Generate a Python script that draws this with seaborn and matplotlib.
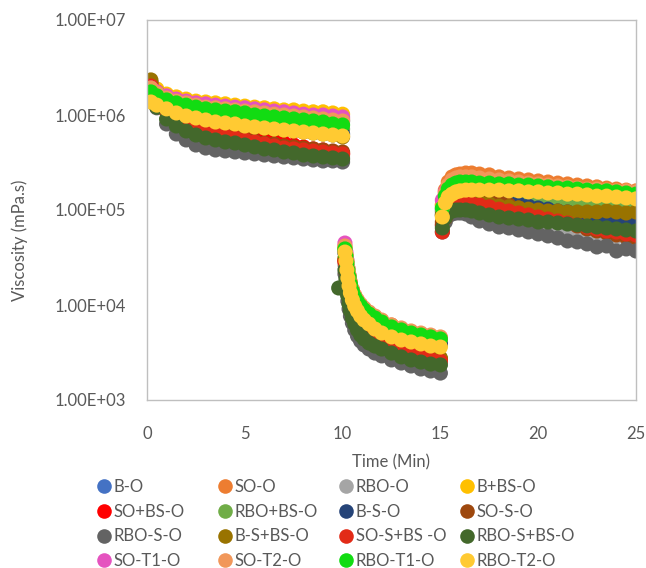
import matplotlib
matplotlib.use("Agg")
import matplotlib.pyplot as plt
import numpy as np
import pandas as pd
import seaborn as sns
from matplotlib.lines import Line2D
from matplotlib.ticker import FixedLocator, FuncFormatter, NullLocator

# ---------------- data ----------------
time_p1 = [0.2, 0.5, 1.0, 1.5, 2.0, 2.5, 3.0, 3.5, 4.0, 4.5, 5.0, 5.5, 6.0, 6.5, 7.0, 7.5, 8.0, 8.5, 9.0, 9.5, 10.0]
time_p2 = [10.12, 10.17, 10.22, 10.27, 10.33, 10.4, 10.5, 10.62, 10.76, 10.92, 11.1, 11.35, 11.65, 12.0, 12.5, 13.0, 13.5, 14.0, 14.5, 15.0]
time_p3 = [15.1, 15.25, 15.4, 15.6, 15.8, 16.0, 16.3, 16.6, 17.0, 17.5, 18.0, 18.5, 19.0, 19.5, 20.0, 20.5, 21.0, 21.5, 22.0, 22.5, 23.0, 23.5, 24.0, 24.5, 25.0]
time_min = time_p1 + time_p2 + time_p3

series_names = ["B-O", "SO-O", "RBO-O", "B+BS-O", "SO+BS-O", "RBO+BS-O", "B-S-O", "SO-S-O",
                "RBO-S-O", "B-S+BS-O", "SO-S+BS -O", "RBO-S+BS-O", "SO-T1-O", "SO-T2-O", "RBO-T1-O", "RBO-T2-O"]
series_colors = ["#4472C4", "#ED7D31", "#A5A5A5", "#FFC000", "#FF0000", "#70AD47", "#264478", "#9E480E",
                 "#636363", "#997300", "#E22B17", "#43682B", "#E553BF", "#F1975A", "#12DC12", "#FFCA32"]

b_o = [2.12e6, 1.83e6, 1.59e6, 1.44e6, 1.34e6, 1.27e6, 1.21e6, 1.19e6, 1.16e6, 1.13e6, 1.10e6, 1.08e6, 1.05e6, 1.02e6, 1.00e6, 9.76e5, 9.53e5, 9.30e5, 9.08e5, 8.86e5, 8.65e5,
       3.79e4, 3.12e4, 2.57e4, 2.17e4, 1.83e4, 1.55e4, 1.31e4, 1.13e4, 1.00e4, 9.08e3, 8.24e3, 7.48e3, 6.79e3, 6.16e3, 5.46e3, 5.07e3, 4.72e3, 4.49e3, 4.28e3, 4.08e3,
       1.00e5, 1.34e5, 1.55e5, 1.66e5, 1.70e5, 1.70e5, 1.70e5, 1.66e5, 1.62e5, 1.59e5, 1.55e5, 1.51e5, 1.47e5, 1.44e5, 1.40e5, 1.37e5, 1.34e5, 1.31e5, 1.27e5, 1.24e5, 1.21e5, 1.19e5, 1.16e5, 1.13e5, 1.10e5]
so_o = [2.02e6, 1.79e6, 1.59e6, 1.47e6, 1.40e6, 1.34e6, 1.27e6, 1.24e6, 1.21e6, 1.19e6, 1.16e6, 1.13e6, 1.10e6, 1.08e6, 1.05e6, 1.02e6, 1.00e6, 9.76e5, 9.53e5, 9.30e5, 9.08e5,
        4.08e4, 3.36e4, 2.84e4, 2.39e4, 2.02e4, 1.70e4, 1.44e4, 1.24e4, 1.10e4, 1.00e4, 9.08e3, 8.24e3, 7.48e3, 6.79e3, 6.16e3, 5.59e3, 5.20e3, 4.95e3, 4.72e3, 4.49e3,
        1.13e5, 1.62e5, 1.97e5, 2.23e5, 2.34e5, 2.39e5, 2.45e5, 2.45e5, 2.39e5, 2.34e5, 2.23e5, 2.17e5, 2.12e5, 2.07e5, 2.02e5, 1.97e5, 1.92e5, 1.88e5, 1.83e5, 1.79e5, 1.75e5, 1.70e5, 1.66e5, 1.62e5, 1.59e5]
rbo_o = [1.92e6, 1.44e6, 1.08e6, 8.86e5, 7.66e5, 6.95e5, 6.47e5, 6.01e5, 5.73e5, 5.46e5, 5.20e5, 4.95e5, 4.72e5, 4.49e5, 4.28e5, 4.18e5, 3.98e5, 3.89e5, 3.79e5, 3.70e5, 3.61e5,
         2.64e4, 2.07e4, 1.66e4, 1.37e4, 1.13e4, 9.53e3, 8.04e3, 6.95e3, 6.16e3, 5.59e3, 5.07e3, 4.61e3, 4.18e3, 3.79e3, 3.36e3, 3.05e3, 2.84e3, 2.64e3, 2.51e3, 2.39e3,
         6.95e4, 8.86e4, 1.00e5, 1.08e5, 1.10e5, 1.10e5, 1.08e5, 1.05e5, 1.00e5, 9.53e4, 9.08e4, 8.65e4, 8.24e4, 7.85e4, 7.48e4, 7.12e4, 6.79e4, 6.47e4, 6.16e4, 5.87e4, 5.59e4, 5.33e4, 5.20e4, 5.07e4, 4.95e4]
b_bs_o = [2.07e6, 1.88e6, 1.66e6, 1.55e6, 1.47e6, 1.40e6, 1.37e6, 1.34e6, 1.31e6, 1.27e6, 1.24e6, 1.21e6, 1.19e6, 1.16e6, 1.13e6, 1.13e6, 1.10e6, 1.08e6, 1.08e6, 1.05e6, 1.02e6,
          3.98e4, 3.28e4, 2.70e4, 2.28e4, 1.92e4, 1.62e4, 1.37e4, 1.19e4, 1.05e4, 9.53e3, 8.65e3, 7.85e3, 7.12e3, 6.47e3, 5.87e3, 5.33e3, 4.95e3, 4.72e3, 4.49e3, 4.28e3,
          1.13e5, 1.44e5, 1.62e5, 1.75e5, 1.79e5, 1.83e5, 1.83e5, 1.79e5, 1.75e5, 1.70e5, 1.66e5, 1.62e5, 1.59e5, 1.55e5, 1.51e5, 1.47e5, 1.44e5, 1.40e5, 1.37e5, 1.34e5, 1.34e5, 1.31e5, 1.27e5, 1.27e5, 1.24e5]
so_bs_o = [1.92e6, 1.51e6, 1.13e6, 9.53e5, 8.65e5, 8.04e5, 7.48e5, 7.12e5, 6.79e5, 6.47e5, 6.16e5, 5.87e5, 5.59e5, 5.33e5, 5.07e5, 4.83e5, 4.61e5, 4.39e5, 4.28e5, 4.08e5, 3.89e5,
           2.98e4, 2.34e4, 1.88e4, 1.55e4, 1.27e4, 1.08e4, 9.08e3, 7.85e3, 6.95e3, 6.31e3, 5.73e3, 5.20e3, 4.72e3, 4.28e3, 3.79e3, 3.44e3, 3.20e3, 2.98e3, 2.84e3, 2.64e3,
           6.95e4, 9.53e4, 1.10e5, 1.19e5, 1.21e5, 1.21e5, 1.21e5, 1.19e5, 1.16e5, 1.13e5, 1.10e5, 1.10e5, 1.08e5, 1.08e5, 1.08e5, 1.05e5, 1.00e5, 9.30e4, 8.65e4, 8.04e4, 7.48e4, 6.95e4, 6.47e4, 6.01e4, 5.73e4]
rbo_bs_o = [1.83e6, 1.55e6, 1.31e6, 1.19e6, 1.10e6, 1.05e6, 1.00e6, 9.76e5, 9.53e5, 9.30e5, 9.08e5, 8.86e5, 8.65e5, 8.44e5, 8.24e5, 8.04e5, 7.85e5, 7.66e5, 7.48e5, 7.30e5, 7.12e5,
            3.61e4, 2.98e4, 2.45e4, 2.02e4, 1.66e4, 1.40e4, 1.19e4, 1.02e4, 9.08e3, 8.24e3, 7.48e3, 6.79e3, 6.16e3, 5.59e3, 5.07e3, 4.72e3, 4.39e3, 4.18e3, 3.98e3, 3.79e3,
            9.53e4, 1.19e5, 1.34e5, 1.44e5, 1.47e5, 1.51e5, 1.51e5, 1.47e5, 1.44e5, 1.40e5, 1.37e5, 1.34e5, 1.31e5, 1.27e5, 1.27e5, 1.24e5, 1.21e5, 1.21e5, 1.19e5, 1.19e5, 1.16e5, 1.16e5, 1.13e5, 1.13e5, 1.10e5]
b_s_o = [2.23e6, 1.70e6, 1.31e6, 1.13e6, 1.02e6, 9.53e5, 9.08e5, 8.65e5, 8.44e5, 8.24e5, 8.04e5, 7.85e5, 7.66e5, 7.48e5, 7.30e5, 7.12e5, 6.95e5, 6.79e5, 6.62e5, 6.47e5, 6.31e5,
         3.53e4, 2.84e4, 2.28e4, 1.88e4, 1.55e4, 1.34e4, 1.16e4, 1.02e4, 9.30e3, 8.44e3, 7.66e3, 6.95e3, 6.31e3, 5.73e3, 5.20e3, 4.83e3, 4.49e3, 4.28e3, 4.08e3, 3.89e3,
         8.86e4, 1.13e5, 1.31e5, 1.40e5, 1.44e5, 1.47e5, 1.47e5, 1.44e5, 1.37e5, 1.31e5, 1.24e5, 1.19e5, 1.16e5, 1.10e5, 1.05e5, 1.02e5, 9.76e4, 9.53e4, 9.08e4, 8.86e4, 8.44e4, 8.24e4, 8.04e4, 7.66e4, 7.48e4]
so_s_o = [2.12e6, 1.59e6, 1.13e6, 9.30e5, 8.24e5, 7.48e5, 6.95e5, 6.47e5, 6.16e5, 5.87e5, 5.59e5, 5.33e5, 5.07e5, 4.95e5, 4.72e5, 4.61e5, 4.49e5, 4.39e5, 4.28e5, 4.18e5, 4.08e5,
          2.91e4, 2.28e4, 1.83e4, 1.51e4, 1.24e4, 1.05e4, 8.86e3, 7.66e3, 6.79e3, 6.16e3, 5.59e3, 5.07e3, 4.61e3, 4.18e3, 3.79e3, 3.44e3, 3.20e3, 2.98e3, 2.84e3, 2.70e3,
          7.48e4, 1.00e5, 1.19e5, 1.31e5, 1.37e5, 1.40e5, 1.40e5, 1.40e5, 1.37e5, 1.31e5, 1.24e5, 1.13e5, 1.05e5, 9.76e4, 9.08e4, 8.44e4, 7.85e4, 7.30e4, 6.79e4, 6.31e4, 6.01e4, 5.73e4, 5.46e4, 5.20e4, 5.07e4]
rbo_s_o = [1.83e6, 1.19e6, 8.04e5, 6.31e5, 5.46e5, 4.83e5, 4.49e5, 4.28e5, 4.18e5, 4.08e5, 3.98e5, 3.89e5, 3.79e5, 3.70e5, 3.61e5, 3.53e5, 3.44e5, 3.36e5, 3.28e5, 3.28e5, 3.20e5,
           2.12e4, 1.66e4, 1.34e4, 1.10e4, 9.08e3, 7.66e3, 6.47e3, 5.46e3, 4.72e3, 4.18e3, 3.79e3, 3.44e3, 3.12e3, 2.91e3, 2.64e3, 2.45e3, 2.28e3, 2.12e3, 2.02e3, 1.92e3,
           5.87e4, 7.48e4, 8.65e4, 9.08e4, 9.30e4, 9.30e4, 9.08e4, 8.44e4, 7.66e4, 7.12e4, 6.62e4, 6.47e4, 6.16e4, 5.87e4, 5.59e4, 5.33e4, 5.07e4, 4.72e4, 4.61e4, 4.39e4, 4.08e4, 4.18e4, 3.70e4, 3.89e4, 3.70e4]
b_s_bs_o = [2.34e6, 1.75e6, 1.27e6, 1.10e6, 1.00e6, 9.30e5, 8.86e5, 8.44e5, 8.24e5, 8.04e5, 7.66e5, 7.48e5, 7.30e5, 7.12e5, 6.95e5, 6.79e5, 6.62e5, 6.47e5, 6.31e5, 6.16e5, 5.87e5,
            3.12e4, 2.45e4, 1.97e4, 1.62e4, 1.34e4, 1.13e4, 9.53e3, 8.24e3, 7.30e3, 6.62e3, 6.01e3, 5.46e3, 4.95e3, 4.49e3, 3.98e3, 3.61e3, 3.36e3, 3.12e3, 2.91e3, 2.77e3,
            8.86e4, 1.13e5, 1.27e5, 1.37e5, 1.40e5, 1.40e5, 1.37e5, 1.31e5, 1.21e5, 1.16e5, 1.10e5, 1.08e5, 1.05e5, 1.02e5, 1.00e5, 9.76e4, 9.76e4, 9.53e4, 9.53e4, 9.53e4, 9.53e4, 9.76e4, 9.53e4, 9.30e4, 9.53e4]
so_s_bs_o = [2.02e6, 1.51e6, 1.08e6, 8.86e5, 7.85e5, 7.30e5, 6.79e5, 6.31e5, 6.01e5, 5.73e5, 5.46e5, 5.20e5, 4.95e5, 4.72e5, 4.49e5, 4.39e5, 4.28e5, 4.18e5, 4.08e5, 3.98e5, 3.89e5,
             2.84e4, 2.23e4, 1.79e4, 1.47e4, 1.21e4, 1.02e4, 8.65e3, 7.48e3, 6.62e3, 6.01e3, 5.46e3, 4.95e3, 4.49e3, 4.08e3, 3.61e3, 3.28e3, 3.05e3, 2.84e3, 2.70e3, 2.57e3,
             5.87e4, 8.24e4, 1.00e5, 1.10e5, 1.16e5, 1.19e5, 1.19e5, 1.16e5, 1.13e5, 1.08e5, 1.02e5, 9.76e4, 9.30e4, 8.86e4, 8.44e4, 8.04e4, 7.66e4, 7.30e4, 6.95e4, 6.62e4, 6.31e4, 6.01e4, 5.87e4, 5.59e4, 5.46e4]
rbo_s_bs_o = [1.62e6, 1.21e6, 9.08e5, 7.66e5, 6.79e5, 6.16e5, 5.73e5, 5.46e5, 5.20e5, 5.07e5, 4.83e5, 4.61e5, 4.39e5, 4.28e5, 4.08e5, 3.98e5, 3.79e5, 3.70e5, 3.61e5, 3.53e5, 3.44e5,
              2.34e4, 1.88e4, 1.51e4, 1.24e4, 1.02e4, 8.65e3, 7.30e3, 6.31e3, 5.46e3, 4.83e3, 4.39e3, 3.98e3, 3.70e3, 3.44e3, 3.12e3, 2.84e3, 2.64e3, 2.51e3, 2.39e3, 2.34e3,
              6.47e4, 8.24e4, 9.30e4, 9.76e4, 1.00e5, 1.00e5, 1.00e5, 9.76e4, 9.30e4, 8.86e4, 8.44e4, 8.24e4, 8.04e4, 7.85e4, 7.48e4, 7.48e4, 7.30e4, 7.12e4, 6.95e4, 6.79e4, 6.62e4, 6.47e4, 6.31e4, 6.16e4, 6.01e4]
rbo_s_bs_extra_time = [9.8]
rbo_s_bs_extra_value = [1.51e4]
so_t1_o = [1.92e6, 1.75e6, 1.59e6, 1.47e6, 1.40e6, 1.34e6, 1.31e6, 1.27e6, 1.24e6, 1.21e6, 1.19e6, 1.16e6, 1.13e6, 1.10e6, 1.08e6, 1.05e6, 1.02e6, 1.00e6, 1.00e6, 9.76e5, 9.53e5,
           4.49e4, 3.61e4, 2.98e4, 2.45e4, 2.02e4, 1.70e4, 1.44e4, 1.24e4, 1.10e4, 1.00e4, 9.08e3, 8.24e3, 7.48e3, 6.79e3, 6.01e3, 5.59e3, 5.20e3, 4.95e3, 4.72e3, 4.49e3,
           1.27e5, 1.55e5, 1.75e5, 1.88e5, 1.97e5, 2.02e5, 2.02e5, 2.02e5, 1.97e5, 1.92e5, 1.88e5, 1.83e5, 1.79e5, 1.75e5, 1.70e5, 1.66e5, 1.62e5, 1.59e5, 1.55e5, 1.51e5, 1.47e5, 1.44e5, 1.40e5, 1.37e5, 1.34e5]
so_t2_o = [1.92e6, 1.70e6, 1.51e6, 1.40e6, 1.34e6, 1.27e6, 1.21e6, 1.19e6, 1.16e6, 1.13e6, 1.10e6, 1.08e6, 1.05e6, 1.02e6, 1.00e6, 9.76e5, 9.53e5, 9.30e5, 9.08e5, 8.86e5, 8.65e5,
           4.18e4, 3.44e4, 2.91e4, 2.45e4, 2.07e4, 1.75e4, 1.47e4, 1.27e4, 1.13e4, 1.02e4, 9.30e3, 8.44e3, 7.66e3, 6.95e3, 6.16e3, 5.73e3, 5.33e3, 5.07e3, 4.83e3, 4.61e3,
           1.05e5, 1.51e5, 1.83e5, 2.07e5, 2.17e5, 2.23e5, 2.23e5, 2.23e5, 2.17e5, 2.12e5, 2.07e5, 2.02e5, 1.97e5, 1.92e5, 1.88e5, 1.83e5, 1.79e5, 1.75e5, 1.70e5, 1.66e5, 1.66e5, 1.62e5, 1.59e5, 1.59e5, 1.55e5]
rbo_t1_o = [1.75e6, 1.59e6, 1.44e6, 1.34e6, 1.27e6, 1.21e6, 1.16e6, 1.13e6, 1.10e6, 1.08e6, 1.05e6, 1.00e6, 9.76e5, 9.53e5, 9.30e5, 9.08e5, 8.86e5, 8.65e5, 8.44e5, 8.04e5, 7.85e5,
            3.89e4, 3.28e4, 2.77e4, 2.34e4, 1.97e4, 1.66e4, 1.40e4, 1.21e4, 1.08e4, 9.76e3, 8.86e3, 8.04e3, 7.30e3, 6.62e3, 5.87e3, 5.46e3, 5.07e3, 4.83e3, 4.61e3, 4.39e3,
            1.05e5, 1.40e5, 1.66e5, 1.83e5, 1.92e5, 1.97e5, 1.97e5, 1.97e5, 1.92e5, 1.92e5, 1.88e5, 1.88e5, 1.83e5, 1.83e5, 1.79e5, 1.75e5, 1.70e5, 1.70e5, 1.66e5, 1.62e5, 1.59e5, 1.59e5, 1.55e5, 1.51e5, 1.47e5]
rbo_t2_o = [1.37e6, 1.27e6, 1.16e6, 1.05e6, 9.76e5, 9.30e5, 8.86e5, 8.44e5, 8.24e5, 8.04e5, 7.66e5, 7.48e5, 7.30e5, 7.12e5, 6.95e5, 6.79e5, 6.62e5, 6.47e5, 6.31e5, 6.16e5, 6.01e5,
            3.61e4, 2.91e4, 2.34e4, 1.92e4, 1.59e4, 1.34e4, 1.13e4, 9.76e3, 8.65e3, 7.66e3, 6.95e3, 6.31e3, 5.59e3, 5.07e3, 4.61e3, 4.28e3, 4.08e3, 3.89e3, 3.70e3, 3.61e3,
            8.44e4, 1.19e5, 1.37e5, 1.47e5, 1.55e5, 1.59e5, 1.62e5, 1.62e5, 1.62e5, 1.62e5, 1.62e5, 1.59e5, 1.59e5, 1.55e5, 1.55e5, 1.51e5, 1.51e5, 1.47e5, 1.47e5, 1.44e5, 1.40e5, 1.40e5, 1.37e5, 1.34e5, 1.31e5]

y_ticks = [1e3, 1e4, 1e5, 1e6, 1e7]
x_ticks = [0, 5, 10, 15, 20, 25]

series_values = [b_o, so_o, rbo_o, b_bs_o, so_bs_o, rbo_bs_o, b_s_o, so_s_o,
                 rbo_s_o, b_s_bs_o, so_s_bs_o, rbo_s_bs_o, so_t1_o, so_t2_o, rbo_t1_o, rbo_t2_o]

# ---------------- long table ----------------
rows = []
for name, vals in zip(series_names, series_values):
    assert len(vals) == len(time_min), name
    if name == "RBO-S+BS-O":
        for t, v in zip(rbo_s_bs_extra_time, rbo_s_bs_extra_value):
            rows.append((name, t, v))
    for t, v in zip(time_min, vals):
        rows.append((name, t, v))
df = pd.DataFrame(rows, columns=["series", "time", "viscosity"])

# ---------------- style ----------------
sns.set_theme(style="white")
plt.rcParams["font.family"] = ["Lato", "DejaVu Sans"]
text_color = "#595959"
axis_color = "#BFBFBF"

W, H = 646, 568
fig = plt.figure(figsize=(W / 100, H / 100), dpi=100)
ax = fig.add_axes([147 / W, 1 - 400 / H, (636 - 147) / W, (400 - 20) / H])

palette = dict(zip(series_names, series_colors))
sns.scatterplot(data=df, x="time", y="viscosity", hue="series", hue_order=series_names,
                palette=palette, s=118, linewidth=0, alpha=1, legend=False, ax=ax)

ax.set_yscale("log")
ax.set_xlim(0, 25)
ax.set_ylim(1e3, 1e7)
ax.yaxis.set_major_locator(FixedLocator(y_ticks))
ax.yaxis.set_minor_locator(NullLocator())
ax.yaxis.set_major_formatter(FuncFormatter(lambda v, p: f"{v:.2E}"))
ax.xaxis.set_major_locator(FixedLocator(x_ticks))
ax.set_xlabel("")
ax.set_ylabel("")

for sp in ax.spines.values():
    sp.set_visible(True)
    sp.set_color(axis_color)
    sp.set_linewidth(1.0)

ax.tick_params(axis="both", which="major", direction="out", length=5, width=1,
               color=axis_color, labelcolor=text_color, labelsize=12)
ax.tick_params(axis="x", pad=14)
ax.tick_params(axis="y", pad=10)
ax.grid(False)

fig.text(391.5 / W, 1 - 462 / H, "Time (Min)", ha="center", va="center",
         fontsize=12, color=text_color)
fig.text(20 / W, 1 - 240 / H, "Viscosity (mPa.s)", ha="center", va="center",
         rotation=90, fontsize=12, color=text_color)

# ---------------- legend: 4 columns, row-major order ----------------
col_x = [96, 217, 338, 459]
for c in range(4):
    idx = [c + 4 * r for r in range(4)]
    handles = [Line2D([], [], marker="o", linestyle="", markersize=10.5,
                      markerfacecolor=series_colors[i], markeredgewidth=0)
               for i in idx]
    labels = [series_names[i] for i in idx]
    leg = fig.legend(handles, labels, loc="upper left",
                     bbox_to_anchor=(col_x[c] / W, 1 - 479 / H),
                     bbox_transform=fig.transFigure, frameon=False,
                     fontsize=12, labelcolor=text_color, handlelength=0.9,
                     handletextpad=0.15, labelspacing=0.52, borderpad=0,
                     borderaxespad=0)

fig.savefig("out.png", dpi=100)
